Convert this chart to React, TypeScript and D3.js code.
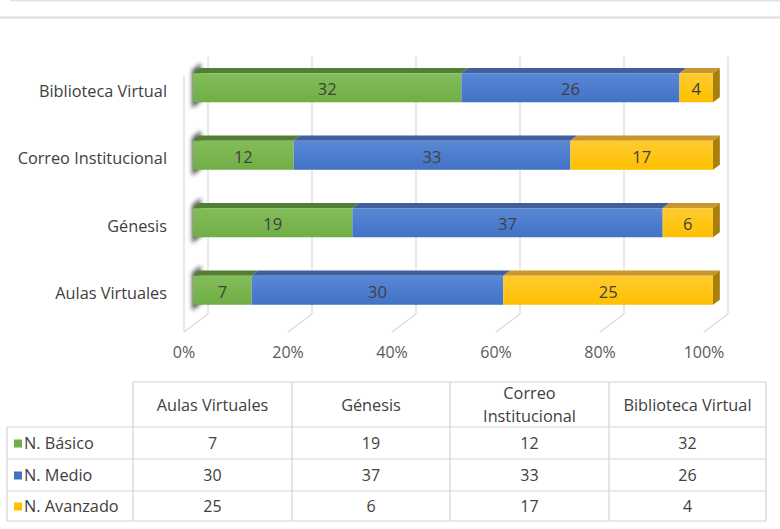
import React from "react";
import * as d3 from "d3";

const categories = ["Aulas Virtuales", "Génesis", "Correo Institucional", "Biblioteca Virtual"];
const basico = [7, 19, 12, 32];
const medio = [30, 37, 33, 26];
const avanzado = [25, 6, 17, 4];
const seriesNames = ["N. Básico", "N. Medio", "N. Avanzado"];
const tickValues = [0, 0.2, 0.4, 0.6, 0.8, 1];
const headerLines = [["Aulas Virtuales"], ["Génesis"], ["Correo", "Institucional"], ["Biblioteca Virtual"]];

const W = 780;
const H = 529;
const FONT = "'Open Sans', 'Liberation Sans', sans-serif";

const front = ["#72ae48", "#4272c6", "#ffc000"];
const frontTop = ["#82bd58", "#5a88d6", "#ffcb30"];
const topFace = ["#527f35", "#3f5f9e", "#c8962c"];
const sideFace = ["#446b2b", "#2f4e8a", "#a87e0c"];

export default function App() {
  const series = [basico, medio, avanzado];
  const x = d3.scaleLinear().domain([0, 1]).range([184, 704]);
  const depthX = 24;
  const depthY = -18;
  const floorFrontY = 332;
  const wallTop = 57;
  const fB = 0.375;
  const fK = 0.66;
  const bx0 = depthX * fB;
  const bdx = depthX * (fK - fB), bdy = depthY * (fK - fB);

  const order = [...categories].reverse();
  const y = d3
    .scaleBand<string>()
    .domain(order)
    .range([54, 324])
    .paddingInner(0.57)
    .paddingOuter(0.285);

  const stack = categories.map((c, i) => {
    const vals = series.map((s) => s[i]);
    const total = d3.sum(vals);
    let acc = 0;
    return vals.map((v, k) => {
      const a = acc / total;
      acc += v;
      return { cat: c, k, v, a, b: acc / total };
    });
  });

  const tableCols = [133, 292, 450, 609, 766];
  const tableRows = [382, 427, 459, 491, 521];
  const textColor = "#404040";
  const fs = 16.3;

  return (
    <svg width={W} height={H} style={{ position: "absolute", left: 0, top: 0, background: "#fff" }} fontFamily={FONT}>
      <defs>
        {front.map((c, k) => (
          <linearGradient key={k} id={`g${k}`} x1="0" y1="0" x2="0" y2="1">
            <stop offset="0" stopColor={frontTop[k]} />
            <stop offset="1" stopColor={c} />
          </linearGradient>
        ))}
        <filter id="blur" x="-100%" y="-50%" width="300%" height="200%">
          <feGaussianBlur stdDeviation="2.2" />
        </filter>
      </defs>
      <rect x={0} y={0} width={W} height={H} fill="#fff" />
      <line x1={10} x2={W} y1={0.5} y2={0.5} stroke="#dbe5f1" strokeWidth={2} />
      <line x1={0} x2={W} y1={17.5} y2={17.5} stroke="#e3e3e3" strokeWidth={2.5} />

      {tickValues.map((t, i) => {
        const xb = x(t) + depthX;
        return (
          <g key={i}>
            <line x1={xb} x2={xb} y1={wallTop} y2={floorFrontY + depthY} stroke="#d9d9d9" strokeWidth={1.2} />
            <line x1={xb} x2={x(t)} y1={floorFrontY + depthY} y2={floorFrontY} stroke="#d9d9d9" strokeWidth={1.2} />
          </g>
        );
      })}
      <line x1={x(0)} x2={x(0)} y1={wallTop - depthY} y2={floorFrontY} stroke="#d9d9d9" strokeWidth={1.2} />

      {tickValues.map((t, i) => (
        <text key={i} x={x(t)} y={352} textAnchor="middle" dominantBaseline="central" fontSize={16} fill="#595959">
          {d3.format(".0%")(t)}
        </text>
      ))}

      {stack.map((segs) => {
        const cat = segs[0].cat;
        const top = y(cat)!;
        const h = y.bandwidth();
        const xl = x(0) + bx0;
        return (
          <g key={cat}>
            <polygon
              points={`${xl - 1},${top - 3} ${xl + bdx + 1},${top + bdy - 5} ${xl + bdx + 1},${top + h + bdy + 4} ${xl - 1},${top + h + 6}`}
              fill="#3a3a3a"
              opacity={0.85}
              filter="url(#blur)"
            />
            {segs.map((s) => {
              const x0 = x(s.a) + bx0;
              const x1 = x(s.b) + bx0;
              return (
                <g key={s.k}>
                  <polygon
                    points={`${x0},${top} ${x0 + bdx},${top + bdy} ${x1 + bdx},${top + bdy} ${x1},${top}`}
                    fill={topFace[s.k]}
                  />
                  <rect x={x0} y={top} width={x1 - x0} height={h} fill={`url(#g${s.k})`} />
                  {s.k === 2 && (
                    <polygon
                      points={`${x1},${top} ${x1 + bdx},${top + bdy} ${x1 + bdx},${top + h + bdy} ${x1},${top + h}`}
                      fill={sideFace[s.k]}
                    />
                  )}
                  <text
                    x={(x0 + x1) / 2}
                    y={top + h / 2 + 1}
                    textAnchor="middle"
                    dominantBaseline="central"
                    fontSize={16.5}
                    fill={textColor}
                  >
                    {s.v}
                  </text>
                </g>
              );
            })}
            <text x={167} y={top + h / 2 + 3} textAnchor="end" dominantBaseline="central" fontSize={fs} fill={textColor}>
              {cat}
            </text>
          </g>
        );
      })}

      <g stroke="#d4d4d4" strokeWidth={1.2} fill="none">
        <line x1={tableCols[0]} x2={tableCols[4]} y1={tableRows[0]} y2={tableRows[0]} />
        {tableRows.slice(1).map((r, i) => (
          <line key={i} x1={7} x2={tableCols[4]} y1={r} y2={r} />
        ))}
        {tableCols.map((c, i) => (
          <line key={i} x1={c} x2={c} y1={tableRows[0]} y2={tableRows[4]} />
        ))}
        <line x1={7} x2={7} y1={tableRows[1]} y2={tableRows[4]} />
      </g>
      {headerLines.map((lines, i) => {
        const cx = (tableCols[i] + tableCols[i + 1]) / 2;
        const cy = (tableRows[0] + tableRows[1]) / 2;
        return lines.map((ln, j) => (
          <text
            key={`${i}-${j}`}
            x={cx}
            y={cy + (j - (lines.length - 1) / 2) * 23}
            textAnchor="middle"
            dominantBaseline="central"
            fontSize={fs}
            fill={textColor}
          >
            {ln}
          </text>
        ));
      })}
      {series.map((s, k) => {
        const cy = (tableRows[k + 1] + tableRows[k + 2]) / 2;
        return (
          <g key={k}>
            <rect x={14} y={cy - 3.5} width={8} height={8} fill={front[k]} />
            <text x={24} y={cy} dominantBaseline="central" fontSize={fs} fill={textColor}>
              {seriesNames[k]}
            </text>
            {s.map((v, i) => (
              <text
                key={i}
                x={(tableCols[i] + tableCols[i + 1]) / 2}
                y={cy}
                textAnchor="middle"
                dominantBaseline="central"
                fontSize={16}
                fill={textColor}
              >
                {v}
              </text>
            ))}
          </g>
        );
      })}
    </svg>
  );
}
